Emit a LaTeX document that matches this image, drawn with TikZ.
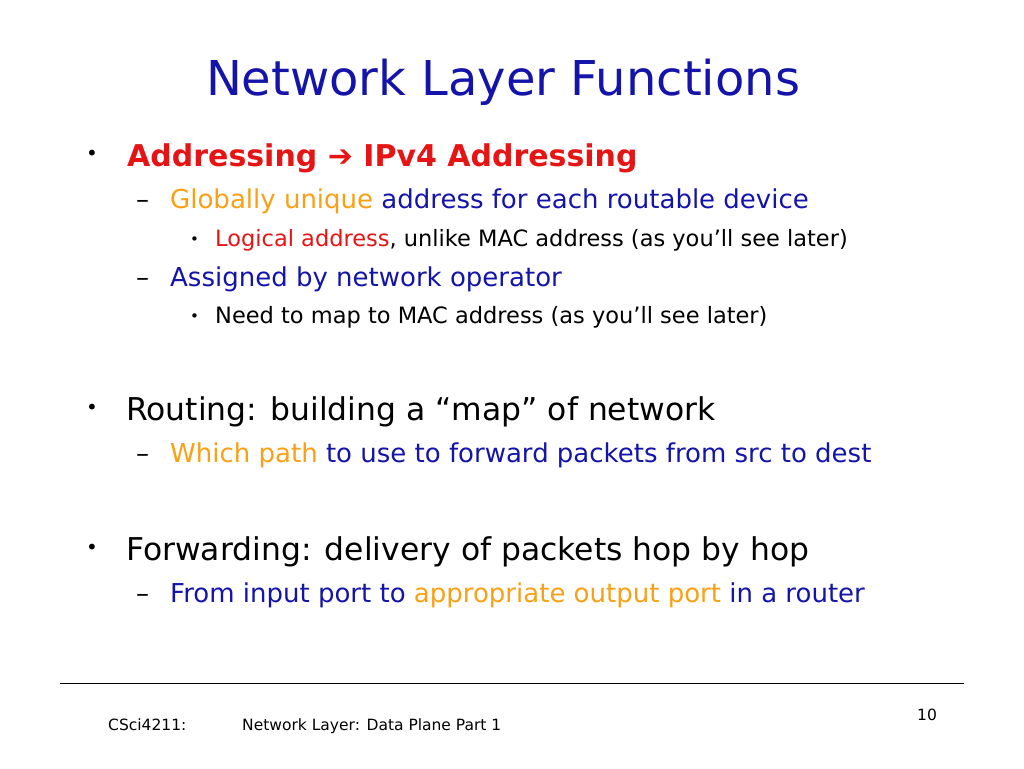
\documentclass[tikz,border=0pt]{standalone}
\usepackage{fontspec}
\setmainfont{DejaVu Sans}
\begin{document}
\begin{tikzpicture}[x=1pt,y=-1pt,
  t/.style={anchor=base west,inner sep=0pt},
  l1/.style={t,font=\fontsize{31.4}{36}\selectfont},
  l2/.style={t,font=\fontsize{26}{30}\selectfont},
  l3/.style={t,font=\fontsize{22.5}{26}\selectfont},
  bl/.style={t,font=\fontsize{20}{24}\selectfont},
  bs/.style={t,font=\fontsize{15}{18}\selectfont}]
\definecolor{tblue}{RGB}{20,20,170}
\definecolor{tred}{RGB}{230,20,20}
\definecolor{torg}{RGB}{250,160,20}
\useasboundingbox (0,0) rectangle (1024,768);
\node[t,anchor=base,font=\fontsize{48}{54}\selectfont,text=tblue] (title) at (503,95) {Network Layer Functions};
\node[bl] (b1) at (86,160) {•};
\node[t,text=tred,font=\fontsize{30}{34}\selectfont\bfseries] (a1) at (127,166) {Addressing ➔ IPv4 Addressing};
\node[l2] (d1) at (136,208) {–};
\node[l2] (a2) at (170,208) {\textcolor{torg}{Globally unique} \textcolor{tblue}{address for each routable device}};
\node[bs] (b3) at (190,244) {•};
\node[l3] (a3) at (215,246) {\textcolor{tred}{Logical address}, unlike MAC address (as you’ll see later)};
\node[l2] (d2) at (136,286) {–};
\node[l2,text=tblue] (a4) at (170,286) {Assigned by network operator};
\node[bs] (b4) at (190,321) {•};
\node[l3] (a5) at (215,323) {Need to map to MAC address (as you’ll see later)};
\node[bl] (b2) at (86,414) {•};
\node[l1] (r1) at (126,420) {Routing: building a “map” of network};
\node[l2] (d3) at (136,462) {–};
\node[l2] (r2) at (170,462) {\textcolor{torg}{Which path} \textcolor{tblue}{to use to forward packets from src to dest}};
\node[bl] (b5) at (86,554) {•};
\node[l1] (f1) at (126,560) {Forwarding: delivery of packets hop by hop};
\node[l2] (d4) at (136,602) {–};
\node[l2] (f2) at (170,602) {\textcolor{tblue}{From input port to} \textcolor{torg}{appropriate output port} \textcolor{tblue}{in a router}};
\coordinate (la) at (60,683); \coordinate (lb) at (964,683);
\draw[line width=1pt] (la) -- (lb);
\node[t,font=\fontsize{15.5}{18}\selectfont] (c) at (108,730) {CSci4211:};
\node[t,font=\fontsize{15.5}{18}\selectfont] (n) at (242,730) {Network Layer: Data Plane Part 1};
\node[t,font=\fontsize{15.5}{18}\selectfont] (p) at (917,720) {10};
\end{tikzpicture}
\end{document}
